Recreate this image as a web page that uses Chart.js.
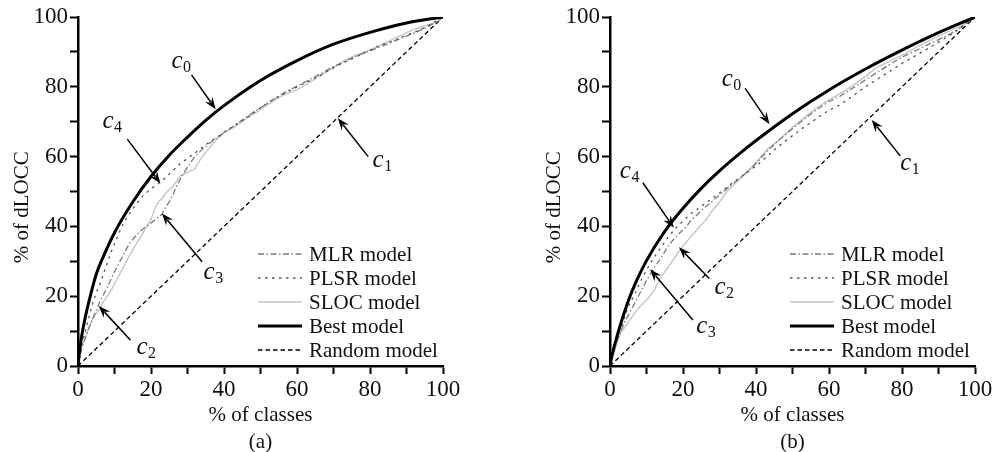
<!DOCTYPE html>
<html>
<head>
<meta charset="utf-8">
<script src="https://cdn.jsdelivr.net/npm/chart.js@4/dist/chart.umd.min.js"></script>
<style>
  html, body { margin: 0; padding: 0; background: #fff; overflow: hidden; }
  .panel { position: absolute; top: 0; width: 496px; height: 452px; }
</style>
</head>
<body>
<div class="panel" style="left:0"><canvas id="chartA"></canvas></div>
<div class="panel" style="left:496px"><canvas id="chartB"></canvas></div>
<script>
const FONT = '"Liberation Serif", "Times New Roman", serif';

// x positions of the "best" curves and the model curves
const bestX  = [0, 0.5, 1, 2, 3, 5, 7, 10, 15, 20, 25, 30, 35, 40, 50, 60, 70, 80, 90, 100];
const modelX = [0, 1, 2, 3, 4, 5, 6, 7, 8, 9, 10, 12, 14, 16, 18, 20, 21, 22, 23, 24, 25, 26, 27, 28,
                30, 32, 34, 36, 38, 40, 43, 46, 50, 53, 56, 60, 63, 66, 70, 73, 76, 80, 83, 86, 90, 93, 96, 98, 100];
const randomX = [0, 100];
const randomY = [0, 100];

// (a)
const bestA = [0, 5, 8.5, 14, 18.5, 26.3, 31.5, 38.2, 47, 54.3, 60.4, 65.6, 70.4, 74.6, 81.8, 87.5, 92.2, 95.6, 98.3, 100];
const mlrA  = [0, 5, 8, 11, 13.5, 16, 18.5, 20.5, 22.5, 24.8, 27, 31, 35, 37.5, 39.5, 41, 41.8, 42.6, 43.5, 45.5, 47, 49, 51.5, 53.5,
               57, 60, 62, 63.8, 65.3, 66.8, 69, 71.3, 74, 76, 78, 80.2, 81.8, 83.5, 85.8, 87.2, 88.7, 90.3, 91.5, 92.8, 94.5, 95.8, 97.3, 98.5, 100];
const plsrA = [0, 6, 10, 14, 18, 21, 23.5, 26.5, 29.5, 32.5, 35, 40, 43.5, 46.5, 49, 50.8, 51.5, 52.3, 53, 54, 55, 56, 57, 58,
               59.5, 61, 62.6, 64.2, 65.5, 67, 69, 71, 74, 76, 77.8, 80, 81.5, 83, 85.5, 87, 88.5, 90.5, 92, 93, 94.8, 96, 97.5, 98.8, 100];
const slocA = [0, 5.5, 8, 11, 13.5, 15, 16.5, 18.5, 20, 21.5, 23.5, 27.5, 31.5, 35, 38.5, 42, 45, 47, 48, 49.5, 50.5, 51.5, 53, 54.5,
               55.5, 56.5, 60, 62.5, 65, 67, 68.5, 70.8, 73.5, 75.5, 77.5, 79.2, 81, 83, 85.5, 87.5, 89, 90.5, 92, 93.5, 95.5, 96.8, 97.8, 98.5, 100];

// (b)
const bestB = [0, 2.8, 5, 8.8, 12.3, 18.6, 23.8, 30.2, 38.6, 45.2, 50.9, 55.9, 60.4, 64.6, 72.3, 79.1, 85.1, 90.5, 95.5, 100];
const mlrB  = [0, 4, 7.5, 10, 12.5, 14.5, 16.5, 18.5, 20.5, 22.5, 24.5, 28, 31, 34.5, 37, 39, 40, 41.5, 42.5, 43.5, 44.5, 45.5, 46.3, 47.2,
               49, 50.8, 52.5, 54.2, 56, 58, 61.5, 64.5, 68, 70.5, 73, 75.8, 77.3, 79.3, 82, 84, 86, 88.5, 90, 91.5, 93.5, 95, 97, 98.5, 100];
const plsrB = [0, 4.5, 8, 11, 14, 17, 19, 21, 23.5, 25.5, 27.5, 31, 34, 37, 39.5, 41.5, 42.5, 43.5, 44.3, 45, 45.8, 46.5, 47.3, 48,
               49.6, 51.2, 52.8, 54.3, 55.8, 57.3, 60, 62.8, 66, 68.3, 70.5, 73.3, 74.8, 77, 80, 82, 84, 86.7, 88.5, 90.3, 92.8, 94.7, 96.8, 98.3, 100];
const slocB = [0, 3.5, 7, 9.5, 11, 12.5, 14, 15.5, 16.8, 17.8, 18.8, 21.5, 25.5, 28.5, 31.5, 34.5, 35.5, 37, 38, 39.3, 40.5, 41.5, 43, 44.5,
               47, 50, 52, 54, 56, 58.3, 62, 64.5, 68.5, 71, 73.5, 76.3, 78, 80, 83, 85.5, 87, 89, 90.8, 92.5, 94.5, 96, 97.5, 98.5, 100];

const seriesNames = ['MLR model', 'PLSR model', 'SLOC model', 'Best model', 'Random model'];

// callouts: subscript, label anchor (left/baseline), arrow tail, arrow tip -- all in data units
const calloutsA = [
  { sub: '0', at: [25.6, 85.3], from: [31.1, 83.4], to: [37.7, 73.6] },
  { sub: '1', at: [80.7, 56.9], from: [79.5, 60.0], to: [71.2, 71.0] },
  { sub: '4', at: [6.7, 68.1],  from: [13.5, 65.0], to: [22.6, 52.3] },
  { sub: '3', at: [34.4, 24.8], from: [34.0, 29.9], to: [23.0, 43.7] },
  { sub: '2', at: [16.0, 3.4],  from: [14.4, 7.4],  to: [5.7, 17.2] }
];
const calloutsB = [
  { sub: '0', at: [30.6, 80.2], from: [37.0, 79.6], to: [43.7, 69.3] },
  { sub: '1', at: [79.5, 56.2], from: [79.5, 60.2], to: [71.7, 70.5] },
  { sub: '4', at: [2.7, 53.8],  from: [9.0, 52.5],  to: [17.5, 39.6] },
  { sub: '2', at: [28.6, 20.6], from: [27.2, 25.1], to: [18.9, 34.0] },
  { sub: '3', at: [23.6, 9.4],  from: [22.7, 13.2], to: [11.0, 27.7] }
];

const pts = (xs, ys) => xs.map((x, i) => ({ x: x, y: ys[i] }));

function makeDatasets(mlr, plsr, sloc, best) {
  return [
    { label: seriesNames[0], data: pts(modelX, mlr),  borderColor: '#7a7a7a', borderWidth: 1.3, borderDash: [6, 2.5, 1.5, 2.5], order: 2 },
    { label: seriesNames[1], data: pts(modelX, plsr), borderColor: '#555',    borderWidth: 1.3, borderDash: [2.5, 4.5], order: 1 },
    { label: seriesNames[2], data: pts(modelX, sloc), borderColor: '#c4c4c4', borderWidth: 1.4, order: 3 },
    { label: seriesNames[3], data: pts(bestX, best),  borderColor: '#000',    borderWidth: 3, cubicInterpolationMode: 'monotone', order: 0 },
    { label: seriesNames[4], data: pts(randomX, randomY), borderColor: '#000', borderWidth: 1.3, borderDash: [4.5, 3], order: 4 }
  ];
}

const overlay = {
  id: 'overlay',
  afterDatasetsDraw(chart, args, opts) {
    const { ctx, chartArea: a, scales: { x, y } } = chart;
    ctx.save();
    ctx.fillStyle = '#111';

    // legend
    chart.data.datasets.forEach((ds, i) => {
      const yy = a.top + 237 + i * 24;
      ctx.beginPath();
      ctx.setLineDash(ds.borderDash || []);
      ctx.lineWidth = ds.borderWidth;
      ctx.strokeStyle = ds.borderColor;
      ctx.moveTo(a.left + 180, yy);
      ctx.lineTo(a.left + 224, yy);
      ctx.stroke();
      ctx.setLineDash([]);
      ctx.font = '21px ' + FONT;
      ctx.textAlign = 'left';
      ctx.textBaseline = 'middle';
      ctx.fillText(ds.label, a.left + 231, yy + 1);
    });

    // callouts
    ctx.strokeStyle = '#000';
    ctx.fillStyle = '#000';
    opts.callouts.forEach(c => {
      const fx = x.getPixelForValue(c.from[0]), fy = y.getPixelForValue(c.from[1]);
      const tx = x.getPixelForValue(c.to[0]),   ty = y.getPixelForValue(c.to[1]);
      const ang = Math.atan2(ty - fy, tx - fx);
      const cs = Math.cos(ang), sn = Math.sin(ang);
      const hl = 12, hw = 4.5;
      ctx.lineWidth = 1.5;
      ctx.beginPath();
      ctx.moveTo(fx, fy);
      ctx.lineTo(tx - hl * 0.7 * cs, ty - hl * 0.7 * sn);
      ctx.stroke();
      ctx.beginPath();
      ctx.moveTo(tx, ty);
      ctx.lineTo(tx - hl * cs + hw * sn, ty - hl * sn - hw * cs);
      ctx.lineTo(tx - hl * 0.65 * cs, ty - hl * 0.65 * sn);
      ctx.lineTo(tx - hl * cs - hw * sn, ty - hl * sn + hw * cs);
      ctx.closePath();
      ctx.fill();

      const lx = x.getPixelForValue(c.at[0]), ly = y.getPixelForValue(c.at[1]);
      ctx.fillStyle = '#111';
      ctx.textAlign = 'left';
      ctx.textBaseline = 'alphabetic';
      ctx.font = 'italic 25px ' + FONT;
      ctx.fillText('c', lx, ly);
      const w = ctx.measureText('c').width;
      ctx.font = '16px ' + FONT;
      ctx.fillText(c.sub, lx + w + 0.5, ly + 4);
      ctx.fillStyle = '#000';
    });

    // y axis title and panel caption
    ctx.fillStyle = '#111';
    ctx.font = '21px ' + FONT;
    ctx.textAlign = 'center';
    ctx.textBaseline = 'middle';
    ctx.save();
    ctx.translate(a.left - 56, y.getPixelForValue(45.5));
    ctx.rotate(-Math.PI / 2);
    ctx.fillText('% of dLOCC', 0, 0);
    ctx.restore();
    ctx.fillText(opts.caption, (a.left + a.right) / 2, a.bottom + 76);
    ctx.restore();
  }
};

function axis(extra) {
  return Object.assign({
    type: 'linear', min: 0, max: 100,
    border: { display: true, color: '#000', width: 2.5 },
    grid: { drawOnChartArea: false, drawTicks: true, tickLength: 8, tickWidth: 2, tickColor: '#000' },
    ticks: {
      stepSize: 10, autoSkip: false, maxRotation: 0, padding: 2, color: '#111',
      font: { family: FONT, size: 23 },
      callback: v => (v % 20 === 0 ? v : '')
    }
  }, extra);
}

function makeChart(id, datasets, padLeft, padRight, caption, callouts) {
  return new Chart(document.getElementById(id), {
    type: 'line',
    data: { datasets: datasets },
    options: {
      responsive: true,
      maintainAspectRatio: false,
      animation: false,
      layout: { padding: { top: 17, right: padRight, bottom: 0, left: padLeft } },
      elements: { point: { radius: 0 }, line: { tension: 0 } },
      scales: {
        x: axis({
          title: { display: true, text: '% of classes', color: '#111', font: { family: FONT, size: 21 }, padding: { top: 0, bottom: 24 } },
          afterFit: s => { s.height = 86; s.paddingLeft = 0; s.paddingRight = 0; }
        }),
        y: axis({ afterFit: s => { s.width = 78; s.paddingTop = 0; s.paddingBottom = 0; } })
      },
      plugins: {
        legend: { display: false },
        tooltip: { enabled: false },
        overlay: { caption: caption, callouts: callouts }
      }
    },
    plugins: [overlay]
  });
}

makeChart('chartA', makeDatasets(mlrA, plsrA, slocA, bestA), 0, 53, '(a)', calloutsA);
makeChart('chartB', makeDatasets(mlrB, plsrB, slocB, bestB), 36, 17, '(b)', calloutsB);
</script>
</body>
</html>
